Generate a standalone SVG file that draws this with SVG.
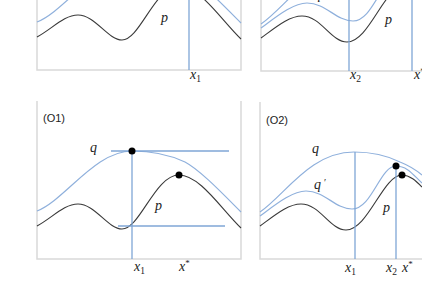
<svg xmlns="http://www.w3.org/2000/svg" xmlns:xlink="http://www.w3.org/1999/xlink" width="422" height="285" viewBox="0 0 422 285">
<style>
.ax{stroke:#d9d9d9;stroke-width:1.5;fill:none}
.bl{stroke:#8fb0dc;stroke-width:1.2;fill:none}
.vl{stroke:#7fa6d6;stroke-width:1.3;fill:none}
.pk{stroke:#3a3a3a;stroke-width:1.1;fill:none}
.m{font-family:"Liberation Serif","DejaVu Serif",serif;font-style:italic;font-size:14px;fill:#222}
.sb{font-size:9.5px;font-style:normal}
.st{font-size:9px;font-style:normal}
.lb{font-family:"Liberation Sans","Open Sans",sans-serif;font-size:11px;fill:#222}
.dot{fill:#000}
</style>
<defs>
<path id="p1" d="M37,226 C52,218 64,204 78,204 C95,204 108,229 122,229 C140,229 155,175 179,175 C200,175 222,210 241,228"/>
<path id="q1" d="M37,211 C65,200 95,151 132,151 C150,151 170,155 185,162 C200,170 222,193 241,212"/>
<path id="p2" d="M260,226 C275,215 288,204 301,204 C320,204 330,230 346,230 C368,230 383,175 402,175 C410,175 416,181 422,187"/>
<path id="qp2" d="M260,216 C275,205 292,191 306,191 C325,191 335,209 352,209 C372,209 380,166 396,166 C408,166 414,176 422,183"/>
<path id="q2" d="M260,212 C285,195 310,152 354,152 C375,152 390,157 400,162 C410,166 416,170 422,175"/>
</defs>

<g id="panel-top-left">
<path class="ax" d="M37,0 V70 H241 V0"/>
<g transform="translate(0,-189)">
<use xlink:href="#q1" class="bl"/>
<use xlink:href="#p1" class="pk"/>
</g>
<line class="vl" x1="189" y1="0" x2="189" y2="70"/>
<text class="m" x="161" y="22">p</text>
<text class="m" x="190" y="79">x<tspan class="sb" dy="3">1</tspan></text>
</g>

<g id="panel-top-right">
<path class="ax" d="M261,0 V71 H422"/>
<g transform="translate(1,-188)">
<use xlink:href="#q2" class="bl"/>
<use xlink:href="#qp2" class="bl"/>
<use xlink:href="#p2" class="pk"/>
</g>
<line class="vl" x1="349" y1="0" x2="349" y2="71"/>
<line class="vl" x1="412" y1="0" x2="412" y2="71"/>
<text class="m" x="314" y="-1">q</text>
<text class="m" x="385" y="24">p</text>
<text class="m" x="350" y="79">x<tspan class="sb" dy="3">2</tspan></text>
<text class="m" x="414" y="79">x<tspan class="st" dy="-5">*</tspan></text>
</g>

<g id="panel-O1">
<path class="ax" d="M37,101 V259 H241 V101"/>
<text class="lb" x="43" y="122">(O1)</text>
<use xlink:href="#q1" class="bl"/>
<use xlink:href="#p1" class="pk"/>
<line class="vl" x1="111" y1="151" x2="229" y2="151"/>
<line class="vl" x1="118" y1="226" x2="225" y2="226"/>
<line class="vl" x1="132" y1="151" x2="132" y2="259"/>
<circle class="dot" cx="132" cy="151" r="3.5"/>
<circle class="dot" cx="179" cy="175" r="3.5"/>
<text class="m" x="90" y="152">q</text>
<text class="m" x="155" y="210">p</text>
<text class="m" x="134" y="271">x<tspan class="sb" dy="3">1</tspan></text>
<text class="m" x="179" y="271">x<tspan class="st" dy="-5">*</tspan></text>
</g>

<g id="panel-O2">
<path class="ax" d="M260,102 V259 H422"/>
<text class="lb" x="266" y="124">(O2)</text>
<use xlink:href="#q2" class="bl"/>
<use xlink:href="#qp2" class="bl"/>
<use xlink:href="#p2" class="pk"/>
<line class="vl" x1="355" y1="152" x2="355" y2="259"/>
<line class="vl" x1="396" y1="166" x2="396" y2="259"/>
<circle class="dot" cx="396" cy="166" r="3.5"/>
<circle class="dot" cx="402" cy="175" r="3.5"/>
<text class="m" x="312" y="153">q</text>
<text class="m" x="314" y="189">q<tspan dx="3" font-style="normal" font-size="10" dy="-3">′</tspan></text>
<text class="m" x="383" y="212">p</text>
<text class="m" x="345" y="272">x<tspan class="sb" dy="3">1</tspan></text>
<text class="m" x="386" y="272">x<tspan class="sb" dy="3">2</tspan></text>
<text class="m" x="402" y="272">x<tspan class="st" dy="-5">*</tspan></text>
</g>
</svg>
